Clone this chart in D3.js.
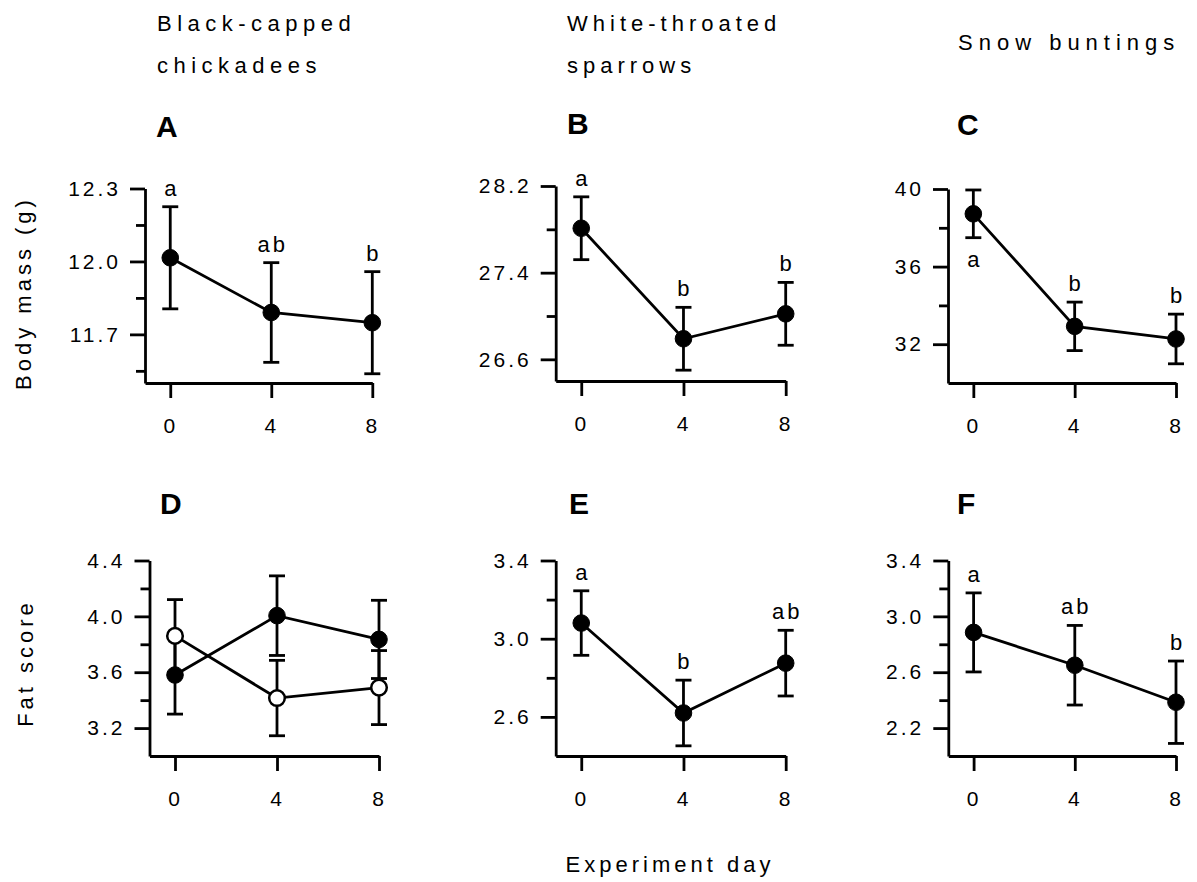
<!DOCTYPE html>
<html>
<head>
<meta charset="utf-8">
<script src="https://cdn.jsdelivr.net/npm/d3@7"></script>
<style>
  body { margin: 0; background: #fff; }
  svg text { font-family: "Liberation Sans", Arial, sans-serif; fill: #000; }
  .tick text { font-size: 21px; letter-spacing: 3px; }
</style>
</head>
<body>
<div id="chart"></div>
<script>
// experiment days
var days = [0, 4, 8];

// body mass (g), mean and SE
var massChickadee = [12.015, 11.79, 11.748];
var massChickadeeSE = [0.21, 0.205, 0.21];
var massSparrow = [27.81, 26.79, 27.02];
var massSparrowSE = [0.29, 0.29, 0.29];
var massBunting = [38.72, 32.92, 32.27];
var massBuntingSE = [1.23, 1.25, 1.28];

// fat score, mean and SE (chickadees: two groups, filled and open)
var fatChickadeeFilled = [3.58, 4.005, 3.835];
var fatChickadeeFilledSE = [0.28, 0.285, 0.28];
var fatChickadeeOpen = [3.86, 3.415, 3.49];
var fatChickadeeOpenSE = [0.26, 0.27, 0.265];
var fatSparrow = [3.08, 2.62, 2.875];
var fatSparrowSE = [0.165, 0.168, 0.168];
var fatBunting = [2.885, 2.65, 2.385];
var fatBuntingSE = [0.283, 0.285, 0.295];

// significance letters
var lettersA = ["a", "ab", "b"];
var lettersB = ["a", "b", "b"];
var lettersC = ["a", "b", "b"];
var lettersE = ["a", "b", "ab"];
var lettersF = ["a", "ab", "b"];

// axis ticks
var ticksA = [11.7, 12.0, 12.3], minorA = [11.55, 11.85, 12.15];
var ticksB = [26.6, 27.4, 28.2], minorB = [27.0, 27.8];
var ticksC = [32, 36, 40], minorC = [34, 38];
var ticksD = [3.2, 3.6, 4.0, 4.4], minorD = [3.4, 3.8, 4.2];
var ticksE = [2.6, 3.0, 3.4], minorE = [2.8, 3.2];
var ticksF = [2.2, 2.6, 3.0, 3.4], minorF = [2.4, 2.8, 3.2];

var width = 1197, height = 882;

var svg = d3.select("#chart").append("svg")
    .attr("width", width)
    .attr("height", height);

// panel layout
var panels = [
    {label: "A", lx: 156, ly: 137, x0: 145, x1: 372.3, y0: 383, y1: 188.5, domain: [11.5, 12.3],
     ticks: ticksA, minor: minorA, fmt: ".1f",
     series: [{m: massChickadee, se: massChickadeeSE, open: false}], letters: lettersA, below: []},
    {label: "B", lx: 567, ly: 134, x0: 555.7, x1: 785.7, y0: 381, y1: 186, domain: [26.4, 28.2],
     ticks: ticksB, minor: minorB, fmt: ".1f",
     series: [{m: massSparrow, se: massSparrowSE, open: false}], letters: lettersB, below: []},
    {label: "C", lx: 957, ly: 135, x0: 948, x1: 1176, y0: 383, y1: 189, domain: [30, 40],
     ticks: ticksC, minor: minorC, fmt: "d",
     series: [{m: massBunting, se: massBuntingSE, open: false}], letters: lettersC, below: [0]},
    {label: "D", lx: 160, ly: 514, x0: 149.5, x1: 379, y0: 756, y1: 560.5, domain: [3.0, 4.4],
     ticks: ticksD, minor: minorD, fmt: ".1f",
     series: [{m: fatChickadeeFilled, se: fatChickadeeFilledSE, open: false},
              {m: fatChickadeeOpen, se: fatChickadeeOpenSE, open: true}], letters: null, below: []},
    {label: "E", lx: 569, ly: 514, x0: 555.7, x1: 785.7, y0: 756, y1: 560.5, domain: [2.4, 3.4],
     ticks: ticksE, minor: minorE, fmt: ".1f",
     series: [{m: fatSparrow, se: fatSparrowSE, open: false}], letters: lettersE, below: []},
    {label: "F", lx: 957, ly: 514, x0: 948.3, x1: 1176, y0: 756, y1: 560.5, domain: [2.0, 3.4],
     ticks: ticksF, minor: minorF, fmt: ".1f",
     series: [{m: fatBunting, se: fatBuntingSE, open: false}], letters: lettersF, below: []}
];

var lw = 2.8;

panels.forEach(function (p) {
    var x = d3.scaleLinear().domain([-1, 8]).range([p.x0, p.x1]);
    var y = d3.scaleLinear().domain(p.domain).range([p.y0, p.y1]);
    var g = svg.append("g");

    // minor y ticks
    g.append("g")
        .attr("transform", "translate(" + p.x0 + ",0)")
        .call(d3.axisLeft(y).tickValues(p.minor).tickSize(9).tickFormat(""))
        .call(function (a) { a.select(".domain").remove(); });

    // major y ticks + axis line
    g.append("g")
        .attr("transform", "translate(" + p.x0 + ",0)")
        .call(d3.axisLeft(y).tickValues(p.ticks).tickSize(15).tickSizeOuter(0)
            .tickPadding(9).tickFormat(d3.format(p.fmt)));

    // x axis
    g.append("g")
        .attr("transform", "translate(0," + p.y0 + ")")
        .call(d3.axisBottom(x).tickValues(days).tickSize(15).tickSizeOuter(0)
            .tickPadding(20).tickFormat(d3.format("d")));

    g.selectAll(".domain, .tick line")
        .attr("stroke", "#000")
        .attr("stroke-width", lw);
    g.selectAll(".tick text").attr("font-size", null).attr("font-family", null);

    var line = d3.line()
        .x(function (d, i) { return x(days[i]); })
        .y(function (d) { return y(d); });

    // error bars and lines first
    p.series.forEach(function (s) {
        days.forEach(function (day, i) {
            var cx = x(day), top = y(s.m[i] + s.se[i]), bot = y(s.m[i] - s.se[i]);
            g.append("line").attr("x1", cx).attr("x2", cx).attr("y1", top).attr("y2", bot)
                .attr("stroke", "#000").attr("stroke-width", lw);
            [top, bot].forEach(function (yy) {
                g.append("line").attr("x1", cx - 8).attr("x2", cx + 8).attr("y1", yy).attr("y2", yy)
                    .attr("stroke", "#000").attr("stroke-width", lw);
            });
        });
        g.append("path")
            .datum(s.m)
            .attr("d", line)
            .attr("fill", "none")
            .attr("stroke", "#000")
            .attr("stroke-width", lw);
    });

    // points
    p.series.forEach(function (s) {
        g.selectAll(null)
            .data(s.m)
            .enter().append("circle")
            .attr("cx", function (d, i) { return x(days[i]); })
            .attr("cy", function (d) { return y(d); })
            .attr("r", s.open ? 7.8 : 8.3)
            .attr("fill", s.open ? "#fff" : "#000")
            .attr("stroke", "#000")
            .attr("stroke-width", s.open ? 2.5 : 1);
    });

    // significance letters
    if (p.letters) {
        var s0 = p.series[0];
        p.letters.forEach(function (t, i) {
            var below = p.below.indexOf(i) >= 0;
            var yy = below ? y(s0.m[i] - s0.se[i]) + 29 : y(s0.m[i] + s0.se[i]) - 11;
            g.append("text")
                .attr("x", x(days[i]) + 1.5)
                .attr("y", yy)
                .attr("text-anchor", "middle")
                .style("font-size", "22px")
                .style("letter-spacing", "3px")
                .text(t);
        });
    }

    // panel letter
    g.append("text")
        .attr("x", p.lx)
        .attr("y", p.ly)
        .style("font-size", "30px")
        .style("font-weight", "bold")
        .text(p.label);
});

// column titles
var titles = [
    {lines: ["Black-capped", "chickadees"], x: 157, y: 31, ls: 5.5},
    {lines: ["White-throated", "sparrows"], x: 567, y: 31, ls: 5},
    {lines: ["Snow buntings"], x: 958, y: 50, ls: 6}
];
titles.forEach(function (t) {
    t.lines.forEach(function (s, i) {
        svg.append("text")
            .attr("x", t.x)
            .attr("y", t.y + i * 42)
            .style("font-size", "22px")
            .style("letter-spacing", t.ls + "px")
            .text(s);
    });
});

// axis labels
svg.append("text")
    .attr("transform", "translate(31,293) rotate(-90)")
    .attr("text-anchor", "middle")
    .style("font-size", "22px")
    .style("letter-spacing", "4px")
    .text("Body mass (g)");

svg.append("text")
    .attr("transform", "translate(33,663) rotate(-90)")
    .attr("text-anchor", "middle")
    .style("font-size", "22px")
    .style("letter-spacing", "4px")
    .text("Fat score");

svg.append("text")
    .attr("x", 670)
    .attr("y", 872)
    .attr("text-anchor", "middle")
    .style("font-size", "22px")
    .style("letter-spacing", "4px")
    .text("Experiment day");
</script>
</body>
</html>
